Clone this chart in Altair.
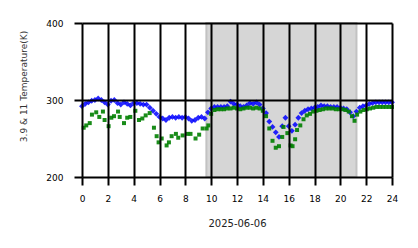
import altair as alt
import pandas as pd

# --- data ---
blue_hours = [i * 0.25 for i in range(97)]
blue_temp = [292, 295, 297, 299, 300, 302, 300, 297, 294, 299, 300, 296, 294, 297, 295, 293,
             296, 296, 295, 294, 294, 290, 286, 282, 278, 276, 274, 277, 278, 277, 278, 277,
             278, 276, 273, 274, 277, 278, 276, 284, 289, 291, 291, 291, 291, 292, 298, 295,
             294, 292, 291, 293, 296, 295, 297, 294, 289, 283, 272, 265, 258, 252, 266, 277,
             266, 260, 268, 277, 283, 286, 288, 289, 290, 291, 293, 292, 292, 291, 291, 291,
             290, 289, 288, 284, 279, 285, 290, 292, 293, 295, 296, 297, 297, 297, 297, 297, 297]

green_hours = [0.13, 0.33, 0.6, 0.77, 1.1, 1.34, 1.62, 1.75, 2.06, 2.27, 2.48, 2.79, 2.92, 3.25,
               3.5, 3.74, 4.13, 4.41, 4.67, 4.93, 5.24, 5.57, 5.78, 5.93, 6.17, 6.55, 6.73, 6.94,
               7.27, 7.45, 7.79, 8.17, 8.4, 8.79, 9.07, 9.34, 9.65, 9.78,
               10.0, 10.25, 10.5, 10.75, 11.0, 11.25, 11.5, 11.75, 12.0, 12.25, 12.5, 12.75,
               13.0, 13.25, 13.5, 13.75, 14.0, 14.25, 14.5, 14.75, 15.0, 15.25, 15.5, 15.6,
               15.9, 16.15, 16.3, 16.5, 16.65, 16.9, 17.15, 17.4, 17.65, 17.9, 18.15, 18.4,
               18.65, 18.9, 19.15, 19.4, 19.65, 19.9, 20.15, 20.4, 20.65, 20.9, 21.1, 21.3,
               21.55, 21.8, 22.05, 22.3, 22.55, 22.8, 23.05, 23.3, 23.55, 23.8, 24.0]
green_temp = [264, 267, 270, 281, 284, 278, 285, 274, 266, 277, 279, 285, 278, 270,
              277, 278, 286, 274, 276, 280, 283, 264, 253, 245, 250, 241, 245, 253,
              256, 251, 254, 256, 256, 250, 255, 263, 263, 267,
              282, 287, 288, 288, 288, 289, 289, 290, 289, 288, 289, 290,
              290, 289, 290, 289, 286, 279, 263, 247, 238, 240, 252, 265,
              257, 241, 240, 249, 261, 267, 275, 280, 282, 285, 286, 287,
              288, 289, 289, 289, 288, 288, 288, 287, 285, 279, 273, 281,
              285, 287, 288, 289, 290, 291, 291, 291, 291, 291, 291]

day_start = [9.63]
day_end = [21.25]

x_ticks = list(range(0, 25, 2))
y_ticks = [200, 300, 400]

blue_df = pd.DataFrame({"hour": blue_hours, "temp": blue_temp})
green_df = pd.DataFrame({"hour": green_hours, "temp": green_temp})
shade_df = pd.DataFrame({"start": day_start, "end": day_end})

xscale = alt.Scale(domain=[0, 24], nice=False, zero=False)
yscale = alt.Scale(domain=[200, 400], nice=False, zero=False)

xaxis = alt.Axis(values=x_ticks, format="d", title="2025-06-06", grid=True, gridColor="black",
                 gridWidth=2, gridOpacity=1, domain=False, tickColor="black", tickWidth=2,
                 tickSize=8, labelFontSize=9, labelColor="black", labelPadding=9,
                 labelFlush=False, labelAlign="center", labelOverlap=False,
                 titleFontSize=10, titleFontWeight="normal", titleColor="#222222",
                 titleX=155, titleY=46, titleAlign="center", titleBaseline="middle",
                 labelFont="DejaVu Sans", titleFont="DejaVu Sans", zindex=1)
yaxis = alt.Axis(values=y_ticks, format="d", title="3.9 & 11 Temperature(K)", grid=True,
                 gridColor="black", gridWidth=2, gridOpacity=1, domain=False,
                 tickColor="black", tickWidth=2, tickSize=8, labelFontSize=9,
                 labelColor="black", labelPadding=11, labelFlush=False, labelOverlap=False,
                 titleFontSize=9, titleFontWeight="normal", titleColor="#333333",
                 titleX=-59, titleY=63, titleAngle=270, titleAlign="center",
                 titleBaseline="middle", labelFont="DejaVu Sans", titleFont="DejaVu Sans",
                 zindex=1)

shade = alt.Chart(shade_df).mark_rect(color="#d6d6d6", stroke="#c2c2c2", strokeWidth=2).encode(
    x=alt.X("start:Q", scale=xscale, axis=xaxis),
    x2="end:Q",
    y=alt.value(0),
    y2=alt.value(154),
)

blue = alt.Chart(blue_df).mark_point(shape="diamond", filled=True, size=34, color="#0000ff",
                                      opacity=0.85).encode(
    x=alt.X("hour:Q", scale=xscale, axis=xaxis),
    y=alt.Y("temp:Q", scale=yscale, axis=yaxis),
)

green = alt.Chart(green_df).mark_point(shape="square", filled=True, size=16, color="#008000",
                                       opacity=0.9).encode(
    x=alt.X("hour:Q", scale=xscale, axis=xaxis),
    y=alt.Y("temp:Q", scale=yscale, axis=yaxis),
)

chart = alt.layer(shade, blue, green).properties(
    width=310, height=154,
    autosize=alt.AutoSizeParams(type="none"),
    padding={"left": 82, "top": 23, "right": 26, "bottom": 71},
).configure_view(stroke=None)

chart.save("out.html", embed_options={"renderer": "svg", "actions": False})
